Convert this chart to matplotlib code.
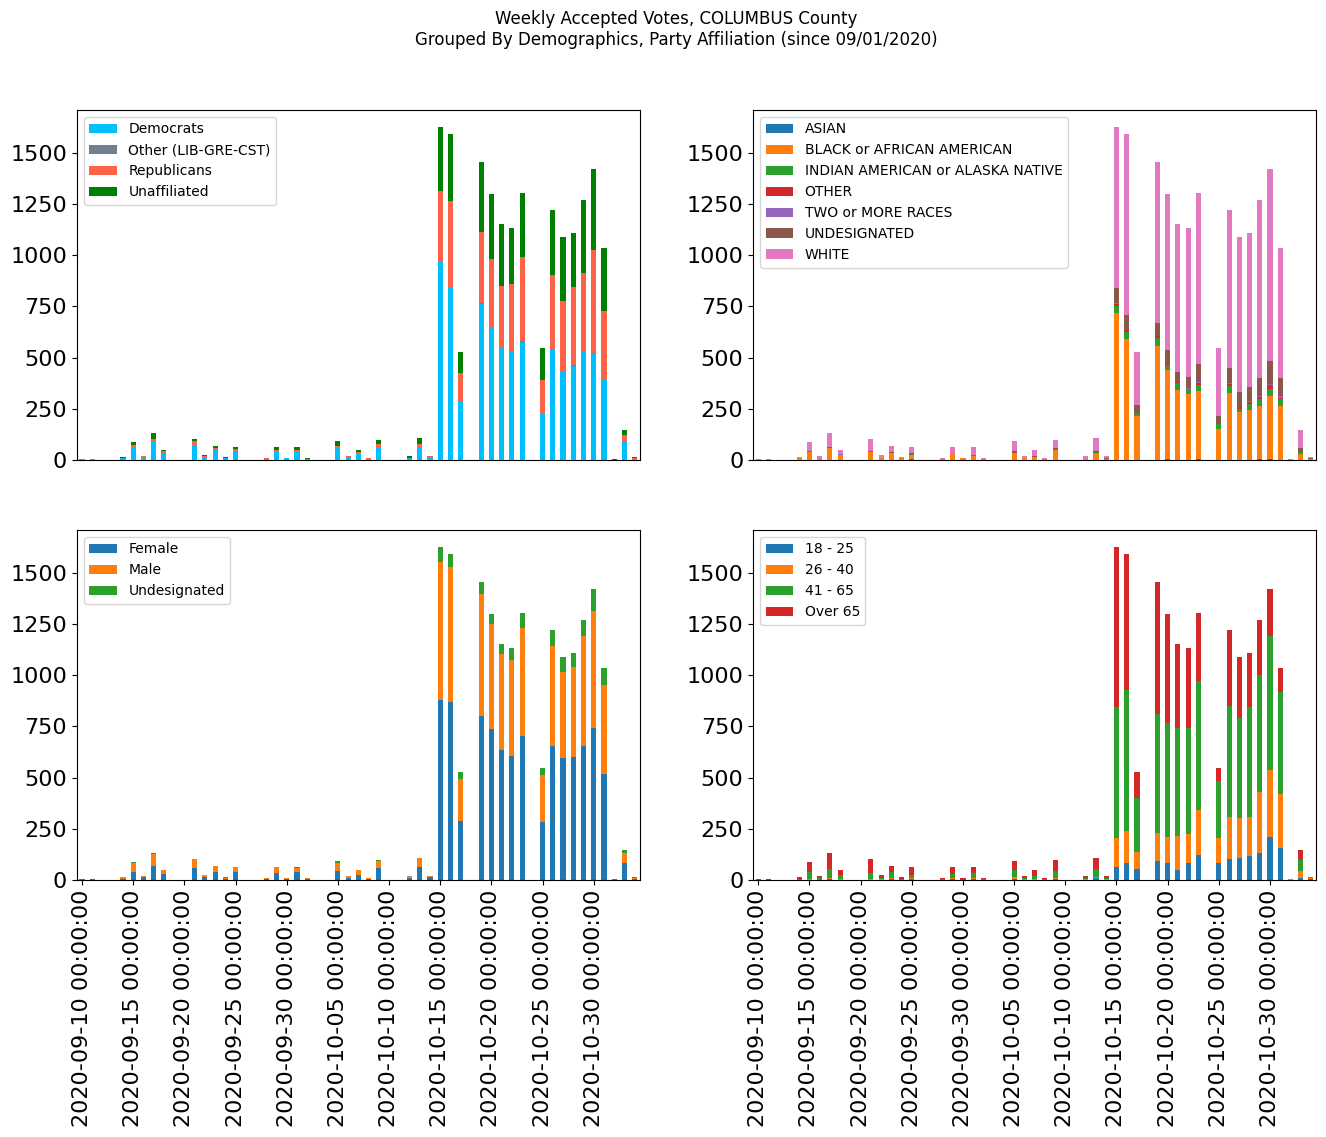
import matplotlib
matplotlib.use("Agg")
import matplotlib.pyplot as plt
import numpy as np
import pandas as pd

dates = pd.date_range("2020-09-10", "2020-11-03", freq="D")
n = len(dates)

def series(d):
    arr = [0] * n
    for k, v in d.items():
        arr[k] = v
    return arr

# ---- Party affiliation (per-day vote counts) ----
democrats = series({0: 4, 1: 4, 4: 10, 5: 63, 6: 15, 7: 93, 8: 34, 11: 70, 12: 15, 13: 50, 14: 8, 15: 44,
                    18: 3, 19: 41, 20: 11, 21: 41, 22: 5, 25: 60, 26: 15, 27: 31, 28: 5, 29: 63, 32: 10,
                    33: 60, 34: 11, 35: 969, 36: 843, 37: 287, 39: 762, 40: 648, 41: 547, 42: 531,
                    43: 577, 45: 229, 46: 537, 47: 433, 48: 458, 49: 531, 50: 519, 51: 394, 53: 91, 54: 3})
other_party = series({39: 4, 43: 4, 48: 4, 50: 4})
republicans = series({5: 12, 6: 6, 7: 9, 8: 8, 11: 23, 12: 4, 13: 10, 15: 10, 18: 7, 19: 9, 21: 9,
                      25: 10, 26: 6, 27: 10, 28: 6, 29: 17, 33: 20, 34: 10, 35: 346, 36: 423, 37: 137,
                      39: 345, 40: 331, 41: 300, 42: 328, 43: 408, 45: 161, 46: 364, 47: 342, 48: 381,
                      49: 380, 50: 500, 51: 332, 53: 31, 54: 7})
unaffiliated = series({4: 6, 5: 14, 7: 31, 8: 8, 11: 11, 12: 5, 13: 10, 14: 7, 15: 11, 19: 15, 21: 15,
                       22: 6, 25: 24, 27: 9, 29: 19, 32: 11, 33: 29, 35: 312, 36: 327, 37: 102, 39: 341,
                       40: 321, 41: 303, 42: 271, 43: 316, 45: 156, 46: 317, 47: 311, 48: 263, 49: 360,
                       50: 399, 51: 307, 52: 5, 53: 24, 54: 6})

# ---- Race ----
asian = series({15: 5, 40: 3, 43: 3, 49: 3, 50: 3})
black = series({0: 5, 1: 5, 4: 10, 5: 41, 6: 5, 7: 58, 8: 24, 11: 41, 12: 10, 13: 34, 14: 10, 15: 19,
                18: 5, 19: 31, 20: 10, 21: 21, 22: 5, 25: 34, 26: 10, 27: 15, 28: 5, 29: 49, 32: 5,
                33: 34, 34: 5, 35: 716, 36: 589, 37: 214, 39: 555, 40: 435, 41: 341, 42: 321, 43: 333,
                45: 151, 46: 326, 47: 234, 48: 243, 49: 260, 50: 309, 51: 263, 53: 29, 54: 5})
indian = series({5: 3, 11: 3, 15: 5, 21: 3, 29: 5, 33: 7, 35: 34, 36: 34, 37: 15, 39: 39, 40: 24, 41: 34,
                 42: 24, 43: 29, 45: 24, 46: 34, 47: 14, 48: 30, 49: 34, 50: 33, 51: 34, 53: 10})
other_race = series({33: 3, 35: 10, 36: 10, 39: 10, 40: 5, 41: 5, 43: 10, 46: 10, 47: 10, 48: 9,
                     49: 10, 50: 20, 51: 5})
two_or_more = series({8: 5, 35: 5, 42: 5, 43: 5, 46: 5, 48: 5, 49: 5, 50: 5, 51: 10})
undesignated_race = series({7: 5, 13: 7, 15: 5, 25: 10, 27: 4, 29: 4, 34: 5, 35: 73, 36: 73, 37: 39,
                            39: 63, 40: 69, 41: 48, 42: 54, 43: 87, 45: 39, 46: 73, 47: 73, 48: 68,
                            49: 87, 50: 112, 51: 87, 53: 19, 54: 5})
white = series({4: 6, 5: 45, 6: 16, 7: 70, 8: 21, 11: 60, 12: 14, 13: 27, 14: 5, 15: 29, 18: 5, 19: 32,
                21: 39, 22: 5, 25: 49, 26: 9, 27: 30, 28: 5, 29: 39, 32: 14, 33: 63, 34: 9, 35: 789,
                36: 887, 37: 258, 39: 785, 40: 764, 41: 722, 42: 726, 43: 838, 45: 332, 46: 770,
                47: 755, 48: 751, 49: 872, 50: 940, 51: 634, 52: 5, 53: 88, 54: 6})

# ---- Gender ----
female = series({0: 5, 1: 5, 4: 5, 5: 41, 6: 15, 7: 70, 8: 31, 11: 58, 12: 15, 13: 41, 14: 5, 15: 41,
                 18: 5, 19: 34, 20: 5, 21: 41, 22: 5, 25: 44, 26: 10, 27: 24, 28: 5, 29: 58, 32: 10,
                 33: 63, 34: 15, 35: 877, 36: 867, 37: 287, 39: 799, 40: 736, 41: 633, 42: 604,
                 43: 701, 45: 283, 46: 653, 47: 594, 48: 599, 49: 653, 50: 740, 51: 516, 53: 83, 54: 5})
male = series({4: 10, 5: 42, 6: 6, 7: 57, 8: 18, 11: 44, 12: 9, 13: 27, 14: 5, 15: 22, 18: 5, 19: 29,
               20: 5, 21: 17, 22: 5, 25: 39, 26: 9, 27: 25, 28: 5, 29: 35, 32: 9, 33: 44, 34: 4,
               35: 677, 36: 662, 37: 205, 39: 599, 40: 511, 41: 468, 42: 468, 43: 531, 45: 228,
               46: 491, 47: 419, 48: 443, 49: 536, 50: 575, 51: 434, 53: 48, 54: 5})
undesignated_gender = series({5: 6, 7: 6, 14: 5, 21: 5, 25: 10, 29: 4, 35: 73, 36: 64, 37: 34, 39: 54,
                              40: 53, 41: 49, 42: 58, 43: 73, 45: 35, 46: 74, 47: 73, 48: 64, 49: 82,
                              50: 107, 51: 83, 52: 5, 53: 15, 54: 5})

# ---- Age ----
age_18_25 = series({7: 5, 13: 5, 15: 5, 19: 5, 21: 5, 25: 5, 29: 5, 33: 10, 35: 63, 36: 83, 37: 54,
                    39: 93, 40: 83, 41: 49, 42: 83, 43: 122, 45: 83, 46: 102, 47: 107, 48: 117,
                    49: 131, 50: 209, 51: 156, 53: 10, 54: 5})
age_26_40 = series({5: 3, 7: 5, 8: 5, 11: 5, 12: 5, 13: 5, 15: 5, 19: 5, 21: 5, 25: 10, 26: 5, 27: 5,
                    29: 5, 32: 5, 33: 5, 34: 5, 35: 142, 36: 156, 37: 82, 39: 136, 40: 126, 41: 165,
                    42: 141, 43: 219, 45: 122, 46: 205, 47: 195, 48: 190, 49: 298, 50: 327, 51: 263,
                    52: 5, 53: 34, 54: 5})
age_41_65 = series({4: 4, 5: 38, 6: 10, 7: 44, 8: 19, 11: 29, 12: 5, 13: 31, 14: 5, 15: 14, 18: 5,
                    19: 21, 21: 24, 22: 5, 25: 35, 26: 5, 27: 16, 28: 5, 29: 34, 32: 5, 33: 39, 34: 5,
                    35: 638, 36: 686, 37: 263, 39: 580, 40: 556, 41: 526, 42: 516, 43: 628, 45: 277,
                    46: 541, 47: 487, 48: 536, 49: 570, 50: 653, 51: 497, 53: 53, 54: 5})
age_over_65 = series({0: 5, 1: 5, 4: 11, 5: 48, 6: 11, 7: 79, 8: 25, 11: 68, 12: 14, 13: 27, 14: 10,
                      15: 39, 18: 5, 19: 32, 20: 10, 21: 29, 22: 5, 25: 43, 26: 9, 27: 28, 28: 5, 29: 53,
                      32: 9, 33: 53, 34: 9, 35: 784, 36: 668, 37: 127, 39: 643, 40: 535, 41: 410,
                      42: 390, 43: 336, 45: 64, 46: 370, 47: 297, 48: 263, 49: 272, 50: 233, 51: 117,
                      53: 49})

party_df = pd.DataFrame({"Democrats": democrats, "Other (LIB-GRE-CST)": other_party,
                         "Republicans": republicans, "Unaffiliated": unaffiliated}, index=dates)
race_df = pd.DataFrame({"ASIAN": asian, "BLACK or AFRICAN AMERICAN": black,
                        "INDIAN AMERICAN or ALASKA NATIVE": indian, "OTHER": other_race,
                        "TWO or MORE RACES": two_or_more, "UNDESIGNATED": undesignated_race,
                        "WHITE": white}, index=dates)
gender_df = pd.DataFrame({"Female": female, "Male": male, "Undesignated": undesignated_gender}, index=dates)
age_df = pd.DataFrame({"18 - 25": age_18_25, "26 - 40": age_26_40, "41 - 65": age_41_65,
                       "Over 65": age_over_65}, index=dates)

party_colors = ["deepskyblue", "slategray", "tomato", "green"]

fig = plt.figure(figsize=(13.26, 11.37), dpi=100)
ax_tl = fig.add_axes([0.058, 0.5954, 0.4245, 0.3079])
ax_tr = fig.add_axes([0.568, 0.5954, 0.4245, 0.3079])
ax_bl = fig.add_axes([0.058, 0.2260, 0.4245, 0.3079])
ax_br = fig.add_axes([0.568, 0.2260, 0.4245, 0.3079])

tick_pos = list(range(0, n, 5))
tick_labels = [str(dates[i]) for i in tick_pos]

for ax, df, colors in [(ax_tl, party_df, party_colors), (ax_tr, race_df, None),
                       (ax_bl, gender_df, None), (ax_br, age_df, None)]:
    x = np.arange(n)
    bottom = np.zeros(n)
    for j, col in enumerate(df.columns):
        c = colors[j] if colors else f"C{j}"
        vals = df[col].values.astype(float)
        ax.bar(x, vals, width=0.5, bottom=bottom, color=c, label=col)
        bottom += vals
    ax.set_xlim(-0.5, n - 0.5)
    ax.set_ylim(0, bottom.max() * 1.05)
    ax.tick_params(axis="y", labelsize=16)
    ax.legend(loc="upper left", fontsize=10)

for ax in (ax_tl, ax_tr):
    ax.set_xticks([])
for ax in (ax_bl, ax_br):
    ax.set_xticks(tick_pos)
    ax.set_xticklabels(tick_labels, rotation=90, fontsize=16)

fig.suptitle("Weekly Accepted Votes, COLUMBUS County\nGrouped By Demographics, Party Affiliation (since 09/01/2020)",
             fontsize=12, x=0.51, y=0.991)

fig.savefig("out.png", dpi=100)
